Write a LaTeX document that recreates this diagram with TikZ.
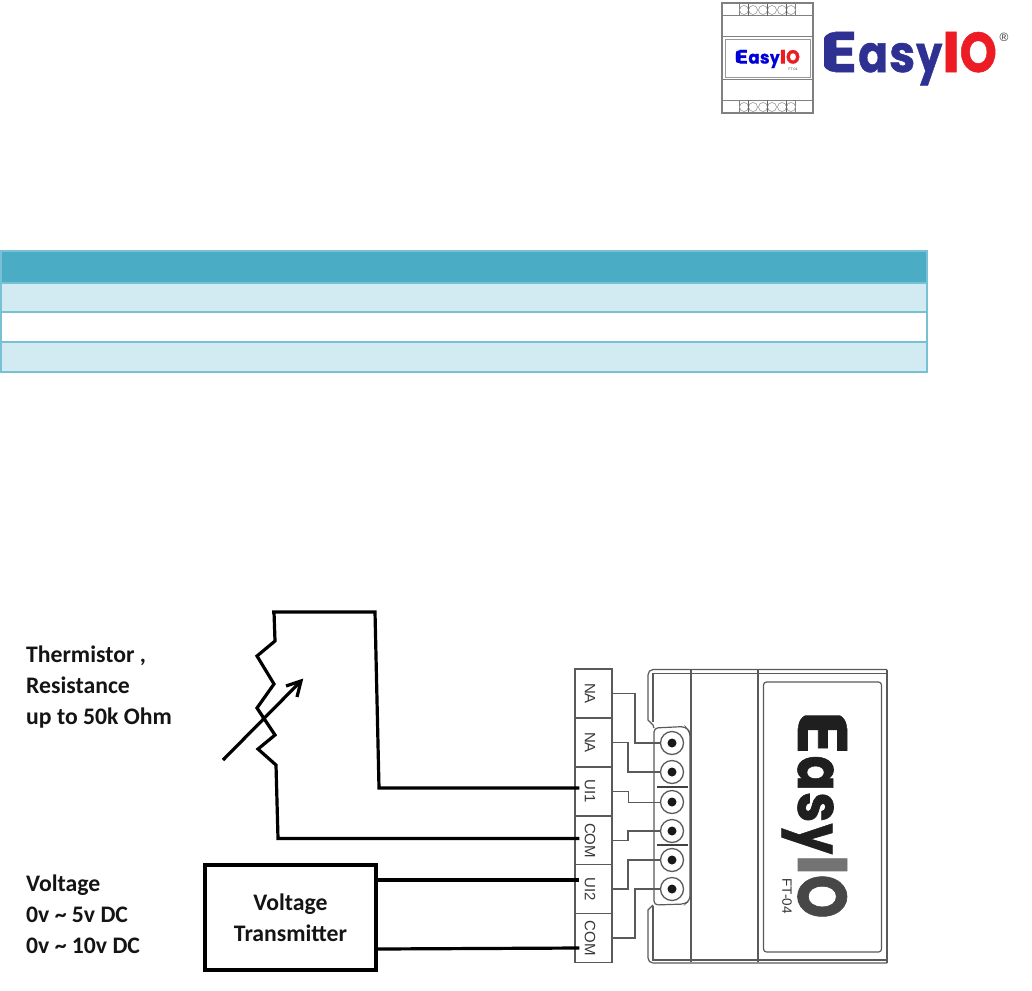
\documentclass[tikz,border=0pt]{standalone}
\usepackage{fontspec}
\setmainfont{Carlito}
\newfontfamily\logofont{Poppins}[BoldFeatures={FakeBold=1}]
\newfontfamily\cellfont{Liberation Sans}
\usetikzlibrary{arrows.meta}
\definecolor{hdr}{HTML}{4BACC6}
\definecolor{rowc}{HTML}{D2EAF1}
\definecolor{bord}{HTML}{78C0D4}
\definecolor{logob}{HTML}{2E3192}
\definecolor{logor}{HTML}{ED1C24}
\definecolor{wireg}{HTML}{5A5A5A}
\tikzset{
  thick wire/.style={draw=black,line width=3.2pt,line join=miter},
  thin wire/.style={draw=wireg,line width=1.2pt},
  cellbox/.style={draw=wireg,line width=1.3pt,fill=white,minimum width=37pt,minimum height=49pt,inner sep=0pt,font=\cellfont\fontsize{15}{15}\selectfont,text=black!78},
  screw/.style={circle,draw=wireg,line width=1.3pt,fill=white,minimum size=23pt,inner sep=0pt},
  bodyline/.style={draw=wireg,line width=1.2pt},
  tblrow/.style={draw=bord,line width=2pt},
  lab/.style={anchor=west,align=left,inner sep=0pt,font=\bfseries\fontsize{23.7}{31}\selectfont,text=black!92},
  devline/.style={draw=black!50,line width=1pt},
  devscrew/.style={circle,draw=black!45,line width=0.5pt,minimum size=9pt,inner sep=0pt,fill=white}
}
% the word, laid out in a 175 x 40 box (baseline at v=40), corners of the E rounded off
\newcommand\fulllogo[4]{%
  \node[transform shape,anchor=base west,inner sep=0pt,font=\logofont\bfseries\fontsize{60}{60}\selectfont] (#1) at (-2,40) {%
    \textcolor{#2}{\resizebox{37pt}{40pt}{E}\hspace{1pt}\resizebox{30pt}{29pt}{a}\hspace{1pt}\resizebox{26pt}{29pt}{s}\hspace{1pt}\resizebox{26pt}{28pt}{y}}\hspace{0pt}\textcolor{#3}{\resizebox{18pt}{40pt}{I}}\hspace{-0.5pt}\textcolor{#4}{\resizebox{37pt}{40pt}{O}}};
  \fill[white] (-3,-2) -- (13,-2) -- (13,0) .. controls (5,0) and (0,5) .. (0,13) -- (-3,13) -- cycle;
  \fill[white] (-3,42) -- (13,42) -- (13,40) .. controls (5,40) and (0,35) .. (0,27) -- (-3,27) -- cycle;
}
\begin{document}
\begin{tikzpicture}[x=1pt,y=-1pt]
\useasboundingbox (0,0) rectangle (1032,990);
\fill[white] (0,0) rectangle (1032,990);
% table
\fill[hdr] (1,251) rectangle (927,283);
\fill[rowc] (1,283) rectangle (927,312);
\fill[rowc] (1,342) rectangle (927,372);
\draw[tblrow] (1,251) rectangle (927,372);
\draw[tblrow] (1,283) -- (927,283);
\draw[tblrow] (1,312) -- (927,312);
\draw[tblrow] (1,342) -- (927,342);
% device logo
\draw[devline,line width=1.4pt] (722,3) rectangle (813,113);
\draw[devline] (722,16) -- (739,16) -- (739,3) (813,16) -- (795,16) -- (795,3);
\draw[devline] (722,100) -- (739,100) -- (739,113) (813,100) -- (795,100) -- (795,113);
\draw[devline] (739,16) -- (795,16) (739,100) -- (795,100);
\draw[devline] (722,37) -- (813,37) (722,79) -- (813,79);
\draw[draw=black!40,line width=0.8pt,fill=white] (725,39) rectangle (810,77);
\foreach \i/\x in {a/744,b/753,c/763,d/772,e/782,f/791}{
  \node[devscrew] (t\i) at (\x,10) {};
  \node[devscrew] (b\i) at (\x,107) {};
}
\draw[black!60,line width=.8pt] (767.5,4) -- (767.5,16) (767.5,100) -- (767.5,112) (748.5,4) -- (748.5,16) (786.5,4) -- (786.5,16) (748.5,100) -- (748.5,112) (786.5,100) -- (786.5,112);
\begin{scope}[shift={(735,50)},xscale=.371,yscale=.34]
\fulllogo{minilogo}{blue!85!black}{logor}{logor}
\end{scope}
\node[inner sep=0pt,font=\cellfont\fontsize{3.5}{4}\selectfont,text=black!70] (minift) at (793,69.5) {FT-04};
% big logo
\begin{scope}[shift={(822,32)}]
\fulllogo{biglogo}{logob}{logor}{logor}
\end{scope}
\node[inner sep=0pt,font=\cellfont\fontsize{12}{12}\selectfont,text=black!80] (reg) at (1004,37) {®};
% module body
\draw[bodyline] (887,669.5) -- (653,669.5) to[out=180,in=90] (648,675) -- (648,720) -- (653,725) -- (654,728);
\draw[bodyline] (887,673.5) -- (653,673.5) -- (653,722);
\draw[bodyline] (887,669.5) -- (887,963);
\draw[bodyline] (887,963) -- (653,963) to[out=180,in=270] (648,958) -- (648,910) -- (653,905);
\draw[bodyline] (887,960) -- (653,960) -- (653,906);
\draw[bodyline] (691,670) -- (691,962);
\draw[bodyline] (758,670) -- (758,962);
\draw[bodyline,rounded corners=4pt] (654,728) -- (685,726.5) -- (690,732) -- (690,900) -- (685,904) -- (654,905) -- cycle;
\draw[draw=black!75,line width=1.3pt] (657,787) -- (688,787) (657,845) -- (688,845);
\draw[bodyline,rounded corners=3pt] (763.5,682) rectangle (881.5,952);
% logo rotated
\begin{scope}[shift={(847,713)},rotate=-90,xscale=1.175,yscale=1.225]
\fulllogo{modlogo}{black!88}{black!55}{black!72}
\end{scope}
\node[inner sep=0pt,rotate=-90,font=\cellfont\fontsize{13.5}{14}\selectfont,text=black!80] (modft) at (787,896) {FT-04};
% terminal cells
\node[cellbox] (na1) at (593.5,693.5) {\rotatebox{-90}{NA}\hspace*{7pt}};
\node[cellbox] (na2) at (593.5,742.5) {\rotatebox{-90}{NA}\hspace*{7pt}};
\node[cellbox] (ui1) at (593.5,791.5) {\rotatebox{-90}{UI1}\hspace*{7pt}};
\node[cellbox] (com1) at (593.5,840.5) {\rotatebox{-90}{COM}\hspace*{7pt}};
\node[cellbox] (ui2) at (593.5,889) {\rotatebox{-90}{UI2}\hspace*{7pt}};
\node[cellbox] (com2) at (593.5,938) {\rotatebox{-90}{COM}\hspace*{7pt}};
% screws
\foreach \n/\y in {s1/743,s2/772,s3/802,s4/831,s5/860,s6/889}{
  \node[screw] (\n) at (672,\y) {};
  \fill[black!90] (672,\y) circle (4.5pt);
}
% thin wires
\draw[thin wire] (na1.east) -- (635,693.5) -- (635,743) -- (s1.west);
\draw[thin wire] (na2.east) -- (628,742.5) -- (628,772) -- (s2.west);
\draw[thin wire,line width=.7pt] (ui1.east) -- (628,791.5) -- (628,802) -- (s3.west);
\draw[thin wire] (com1.east) -- (628,840.5) -- (628,831) -- (s4.west);
\draw[thin wire] (ui2.east) -- (628,889) -- (628,860) -- (s5.west);
\draw[thin wire] (com2.east) -- (635,938) -- (635,889) -- (s6.west);
% thermistor
\coordinate (ui1in) at ([xshift=5pt,yshift=-3.5pt]ui1.west);
\coordinate (com1in) at ([xshift=5pt,yshift=2pt]com1.west);
\coordinate (ui2in) at ([xshift=5pt,yshift=9pt]ui2.west);
\coordinate (com2in) at ([xshift=5pt,yshift=-10pt]com2.west);
\draw[thick wire] (272,612) -- (375,612) -- (379,788) -- (ui1in |- 0,788);
\draw[thick wire] (274,612) -- (275,641) -- (257,656) -- (274,684) -- (257,708) -- (275,735) -- (258,749) -- (276,765) -- (278,838.5) -- (com1in);
\coordinate (arrA) at (223,760);
\coordinate (arrB) at (301,681);
\draw[thick wire] (arrA) -- (arrB);
\draw[thick wire] (286,686) -- (301,681) -- (297,697);
% voltage transmitter
\node[draw=black,line width=3.2pt,fill=white,minimum width=171pt,minimum height=105pt,align=center,inner sep=0pt,font=\bfseries\fontsize{23.7}{31}\selectfont,text=black!92] (vt) at (290.5,917.5) {Voltage\\Transmitter};
\draw[thick wire] (vt.east |- 0,880) -- (ui2in);
\draw[thick wire] (vt.east |- 0,949) -- (com2in);
% labels
\node[lab] (l1) at (26,687) {Thermistor ,\\Resistance\\up to 50k Ohm};
\node[lab] (l2) at (26,914) {Voltage\\0v \textasciitilde{} 5v DC\\0v \textasciitilde{} 10v DC};
\end{tikzpicture}
\end{document}
